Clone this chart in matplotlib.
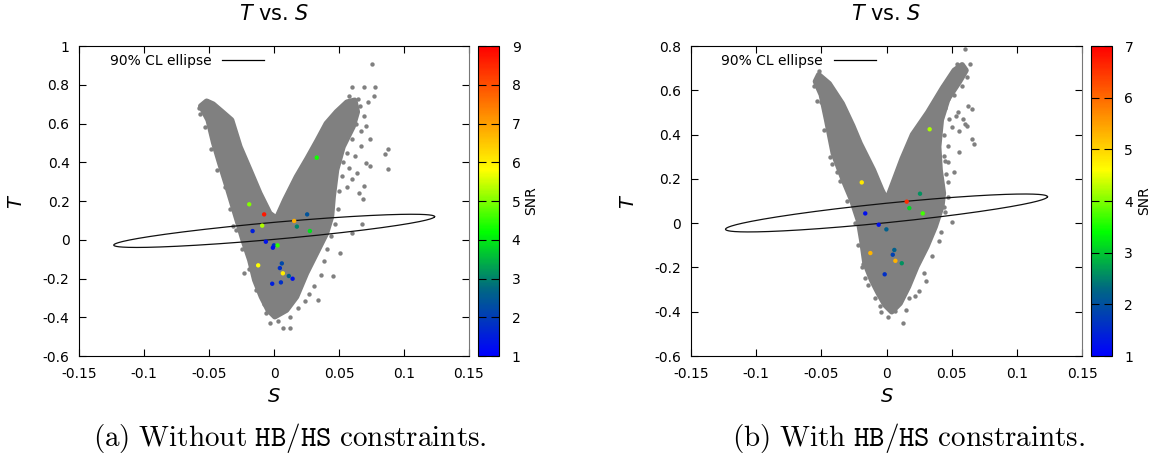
import numpy as np
import matplotlib
matplotlib.use("Agg")
import matplotlib.pyplot as plt
from matplotlib.colors import LinearSegmentedColormap
from matplotlib.lines import Line2D

# ---- panel (a): without HB/HS constraints ----
# outline of the dense grey scan region (S, T)
A_CLOUD_S = [-0.0520, -0.0565, -0.0508, -0.0465, -0.0418, -0.0365, -0.0316, -0.0275, -0.0239, -0.0187,
             -0.0149, -0.0098, -0.0046, 0.0005, 0.0095, 0.0172, 0.0248, 0.0325, 0.0402, 0.0441,
             0.0454, 0.0480, 0.0530, 0.0607, 0.0640, 0.0620, 0.0560, 0.0480, 0.0402, 0.0330,
             0.0255, 0.0172, 0.0082, 0.0018, -0.0034, -0.0111, -0.0187, -0.0264, -0.0328, -0.0400,
             -0.0470]
A_CLOUD_T = [0.715, 0.690, 0.618, 0.500, 0.394, 0.280, 0.171, 0.080, -0.001, -0.105,
             -0.208, -0.294, -0.363, -0.397, -0.363, -0.294, -0.173, -0.070, 0.033, 0.119,
             0.222, 0.360, 0.480, 0.584, 0.660, 0.720, 0.710, 0.660, 0.600, 0.510,
             0.420, 0.325, 0.205, 0.110, 0.136, 0.240, 0.360, 0.480, 0.618, 0.660,
             0.700]
# sparse grey points around the dense region
A_OUT_S = [0.0752, 0.0600, 0.0690, 0.0780, 0.0767, 0.0724, 0.0647, 0.0880, 0.0850, 0.0880,
           0.0738, 0.0695, 0.0687, 0.0650, 0.0680, 0.0596, 0.0510, 0.0453, 0.0339, 0.0240,
           0.0125, 0.0068, 0.0026, -0.0060, -0.0573, -0.0516, -0.0316, -0.0231, -0.0400, -0.0470,
           0.0540, 0.0567, 0.0710, 0.0667, 0.0738, 0.0624, 0.0710, 0.0638, 0.0596,
           0.0500, 0.0550, 0.0580, 0.0660, 0.0690, 0.0630, 0.0670, 0.0600, 0.0560, 0.0530,
           0.0580, 0.0520, 0.0560, 0.0500, 0.0490, 0.0470, 0.0440, 0.0410, 0.0380, 0.0360,
           0.0310, 0.0270, 0.0180, 0.0120, -0.0030, -0.0080, -0.0140, -0.0190, -0.0250, -0.0290,
           -0.0340, -0.0380, -0.0440, -0.0490, -0.0530, -0.0580]
A_OUT_T = [0.907, 0.786, 0.786, 0.791, 0.743, 0.709, 0.726, 0.467, 0.441, 0.364,
           0.381, 0.278, 0.209, 0.243, 0.083, 0.036, -0.067, -0.188, -0.309, -0.317,
           -0.455, -0.455, -0.421, -0.378, 0.648, 0.717, 0.071, -0.171, 0.467, 0.536,
           0.648, 0.553, 0.588, 0.484, 0.519, 0.433, 0.398, 0.347, 0.312,
           0.620, 0.700, 0.740, 0.690, 0.640, 0.600, 0.560, 0.520, 0.450, 0.400,
           0.370, 0.330, 0.270, 0.250, 0.160, 0.080, 0.020, -0.050, -0.110, -0.180,
           -0.240, -0.280, -0.350, -0.400, -0.430, -0.330, -0.260, -0.150, -0.050, 0.050,
           0.160, 0.270, 0.360, 0.470, 0.580, 0.680]
# benchmark points coloured by SNR
A_PTS_S = [0.0328, -0.0192, -0.0077, 0.0254, 0.0154, -0.0092, 0.0175, 0.0275, -0.0166, -0.0064,
           -0.0002, -0.0010, 0.0026, -0.0123, 0.0059, 0.0044, 0.0067, 0.0113, 0.0142, -0.0015,
           0.0052]
A_PTS_T = [0.424, 0.183, 0.131, 0.131, 0.097, 0.073, 0.068, 0.045, 0.045, -0.010,
           -0.029, -0.041, -0.029, -0.132, -0.122, -0.146, -0.173, -0.187, -0.201, -0.227,
           -0.220]
A_SNR = [4.3, 5.0, 8.7, 2.4, 6.8, 5.3, 3.0, 3.9, 1.5, 1.3,
         1.8, 1.3, 4.5, 5.8, 2.2, 1.8, 6.0, 2.6, 1.3, 1.5,
         1.8]

# ---- panel (b): with HB/HS constraints ----
B_CLOUD_S = [-0.0520, -0.0545, -0.0500, -0.0459, -0.0408, -0.0331, -0.0267, -0.0216, -0.0190, -0.0165,
             -0.0114, -0.0062, -0.0011, 0.0040, 0.0104, 0.0168, 0.0232, 0.0309, 0.0373, 0.0424,
             0.0436, 0.0411, 0.0400, 0.0420, 0.0470, 0.0560, 0.0610, 0.0580, 0.0520, 0.0430,
             0.0317, 0.0200, 0.0120, 0.0050, 0.0002, -0.0037, -0.0101, -0.0203, -0.0260, -0.0340,
             -0.0440]
B_CLOUD_T = [0.670, 0.640, 0.580, 0.466, 0.315, 0.195, 0.105, 0.014, -0.076, -0.181,
             -0.257, -0.317, -0.370, -0.400, -0.362, -0.287, -0.196, -0.106, -0.016, 0.075,
             0.135, 0.240, 0.345, 0.466, 0.560, 0.640, 0.690, 0.715, 0.690, 0.610,
             0.500, 0.400, 0.290, 0.180, 0.105, 0.150, 0.240, 0.360, 0.440, 0.540,
             0.630]
B_OUT_S = [0.0600, 0.0543, 0.0637, -0.0518, -0.0490, 0.0628, 0.0657, 0.0670, 0.0657, 0.0614,
           0.0557, 0.0515, 0.0470, 0.0500, 0.0444, 0.0416, 0.0289, 0.0246, 0.0175, 0.0127,
           0.0014, 0.0062, -0.0051, -0.0164, -0.0178, -0.0376, -0.0420, -0.0500, 0.0400, 0.0430,
           0.0470, 0.0500, 0.0557, 0.0586, 0.0530, 0.0444, 0.0473,
           0.0450, 0.0480, 0.0440, 0.0470, 0.0450, 0.0460, 0.0470, 0.0450, 0.0400, 0.0350,
           0.0300, 0.0220, 0.0150, -0.0040, -0.0090, -0.0140, -0.0190, -0.0220, -0.0240, -0.0300,
           -0.0360, -0.0430, -0.0480, -0.0530, -0.0560, 0.0580, 0.0620, 0.0520, 0.0550, 0.0600]
B_OUT_T = [0.787, 0.719, 0.719, 0.689, 0.652, 0.531, 0.516, 0.357, 0.380, 0.440,
           0.320, 0.229, 0.184, 0.003, 0.071, -0.042, -0.223, -0.306, -0.336, -0.449,
           -0.422, -0.397, -0.374, -0.246, -0.185, 0.229, 0.267, 0.546, 0.576, 0.621,
           0.561, 0.433, 0.418, 0.470, 0.486, 0.305, 0.274,
           0.520, 0.470, 0.400, 0.350, 0.280, 0.220, 0.120, 0.050, -0.080, -0.150,
           -0.260, -0.330, -0.390, -0.400, -0.340, -0.280, -0.200, -0.100, 0.000, 0.100,
           0.190, 0.300, 0.420, 0.550, 0.620, 0.620, 0.660, 0.580, 0.500, 0.450]
B_PTS_S = [0.0331, -0.0190, 0.0257, 0.0155, 0.0175, 0.0278, -0.0163, -0.0060, -0.0001, -0.0124,
           0.0060, 0.0048, 0.0068, 0.0117, -0.0014]
B_PTS_T = [0.424, 0.184, 0.133, 0.097, 0.068, 0.044, 0.044, -0.007, -0.028, -0.135,
           -0.121, -0.1425, -0.170, -0.181, -0.231]
B_SNR = [4.2, 4.8, 2.6, 6.6, 3.1, 3.7, 1.2, 1.2, 2.2, 5.3,
         2.2, 1.8, 5.3, 2.6, 1.6]

# 90% CL ellipse of the electroweak fit (centre, S half-width, tilt, T half-thickness)
ELL_S0, ELL_T0 = 0.0, 0.046
ELL_HALF_S = 0.1235
ELL_SLOPE = 0.595
ELL_HALF_T = 0.044

X_TICKS = [-0.15, -0.1, -0.05, 0, 0.05, 0.1, 0.15]
A_Y_TICKS = [-0.6, -0.4, -0.2, 0, 0.2, 0.4, 0.6, 0.8, 1]
B_Y_TICKS = [-0.6, -0.4, -0.2, 0, 0.2, 0.4, 0.6, 0.8]
CAPTIONS = [r"$\mathrm{(a)\ Without\ }\mathtt{HB/HS}\mathrm{\ constraints.}$",
            r"$\mathrm{(b)\ With\ }\mathtt{HB/HS}\mathrm{\ constraints.}$"]

GREY = "#808080"
snr_cmap = LinearSegmentedColormap.from_list(
    "snr", [(0.0, "#0000ff"), (0.22, "#006a80"), (0.4, "#00ff00"), (0.6, "#ffff00"), (1.0, "#ff0000")])


def draw_panel(fig, ax_rect, cb_rect, cloud_s, cloud_t, out_s, out_t, pts_s, pts_t, snr,
               yticks, snr_max, caption, cap_x):
    ax = fig.add_axes(ax_rect)
    cax = fig.add_axes(cb_rect)

    # dense part of the scan as a filled outline, stragglers as dots
    ax.fill(cloud_s, cloud_t, color=GREY, lw=4, ec=GREY, joinstyle="round", zorder=1)
    ax.scatter(out_s, out_t, s=10, color=GREY, lw=0, zorder=1)

    th = np.linspace(0, 2 * np.pi, 400)
    es = ELL_S0 + ELL_HALF_S * np.cos(th)
    et = ELL_T0 + ELL_SLOPE * ELL_HALF_S * np.cos(th) + ELL_HALF_T * np.sin(th)
    ax.plot(es, et, color="#111111", lw=0.9, zorder=2)

    sc = ax.scatter(pts_s, pts_t, c=snr, cmap=snr_cmap, vmin=1, vmax=snr_max,
                    s=10, lw=0, zorder=3)

    ax.set_xlim(-0.15, 0.15)
    ax.set_ylim(yticks[0], yticks[-1])
    ax.set_xticks(X_TICKS)
    ax.set_xticklabels([f"{v:g}" for v in X_TICKS])
    ax.set_yticks(yticks)
    ax.set_yticklabels([f"{v:g}" for v in yticks])
    ax.tick_params(direction="in", length=5, width=0.8, top=True, right=True, labelsize=10)
    ax.tick_params(axis="x", pad=8)
    ax.tick_params(axis="y", pad=7)
    ax.spines["right"].set_color("#777777")
    ax.set_xlabel("$S$", fontsize=14, labelpad=4)
    ax.set_ylabel("$T$", fontsize=14, labelpad=12)
    ax.set_title("$T$ vs. $S$", fontsize=15, pad=19)

    leg_line = Line2D([], [], color="black", lw=0.9)
    ax.legend([leg_line], ["90% CL ellipse"], loc="upper left", markerfirst=False,
              frameon=False, fontsize=10, handlelength=3.0, handletextpad=0.8,
              borderpad=0, borderaxespad=0, bbox_to_anchor=(0.078, 0.975))

    cb = fig.colorbar(sc, cax=cax, ticks=range(1, snr_max + 1))
    cb.outline.set_linewidth(0.8)
    cax.tick_params(direction="in", length=6, width=0.8, left=True, right=True,
                    labelsize=10, pad=9)
    cb.set_label("SNR", fontsize=10, labelpad=2.5)

    fig.text(cap_x, 0.052, caption, ha="center", va="center", fontsize=21,
             math_fontfamily="cm")


fig = plt.figure(figsize=(11.58, 4.62), dpi=100)
draw_panel(fig, [0.0685, 0.2294, 0.3365, 0.671], [0.4130, 0.2294, 0.0181, 0.671],
           A_CLOUD_S, A_CLOUD_T, A_OUT_S, A_OUT_T, A_PTS_S, A_PTS_T, A_SNR,
           A_Y_TICKS, 9, CAPTIONS[0], 290 / 1158)
draw_panel(fig, [0.5967, 0.2294, 0.3377, 0.671], [0.9421, 0.2294, 0.0181, 0.671],
           B_CLOUD_S, B_CLOUD_T, B_OUT_S, B_OUT_T, B_PTS_S, B_PTS_T, B_SNR,
           B_Y_TICKS, 7, CAPTIONS[1], 909 / 1158)
fig.savefig("out.png", dpi=100)
